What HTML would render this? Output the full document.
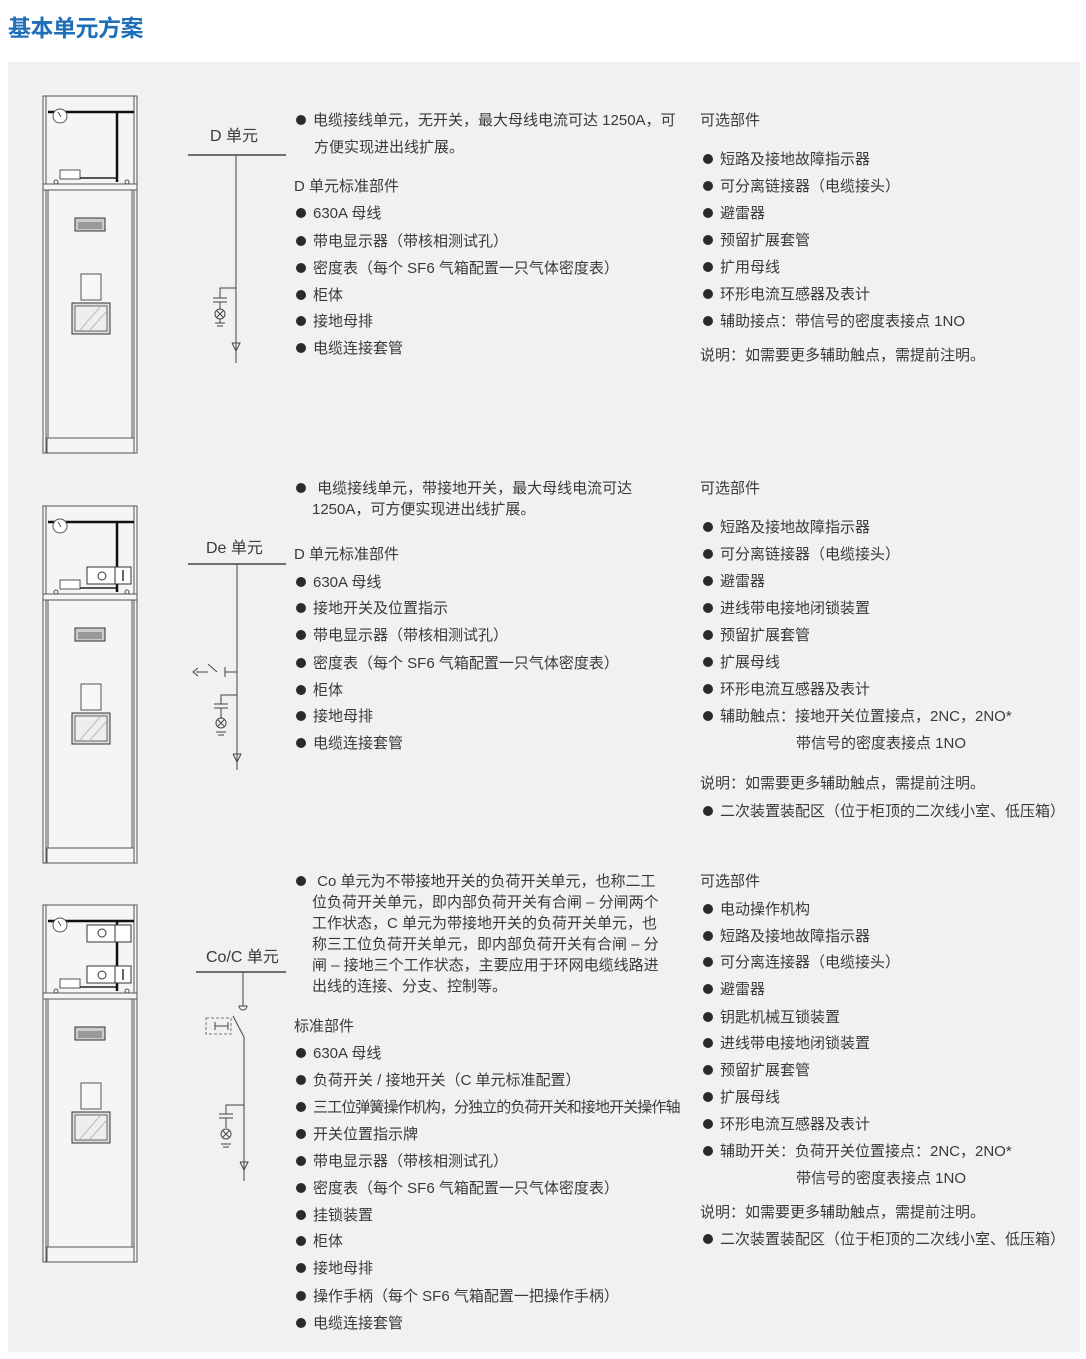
<!DOCTYPE html>
<html><head><meta charset="utf-8">
<style>
body{margin:0;width:1086px;height:1359px;background:#fff;position:relative;overflow:hidden;font-family:"Liberation Sans","Noto Sans CJK SC",sans-serif;color:#3a3a3a}
.panel{position:absolute;left:8px;top:62px;width:1072px;height:1290px;background:#eff1f3}
.t{position:absolute;font-size:15px;line-height:18px;white-space:nowrap}
.t i{display:inline-block;width:10px;height:10px;border-radius:50%;background:#2a2a2a;margin:0 7px 0 1px;vertical-align:0px}
h1{position:absolute;left:8px;top:13px;margin:0;font-size:23px;font-weight:bold;color:#1f6fb8;line-height:30px;letter-spacing:-0.5px}
svg{position:absolute;left:0;top:0}
</style></head><body>
<h1>基本单元方案</h1>
<div class="panel"></div>
<svg width="1086" height="1359" viewBox="0 0 1086 1359">
<defs>
<g id="cab" fill="none" stroke="#555" stroke-width="1">
<rect x="43" y="96" width="94" height="357" fill="#f4f5f7"/>
<line x1="46" y1="96" x2="46" y2="453"/><line x1="134" y1="96" x2="134" y2="453"/>
<rect x="43" y="184" width="94" height="6" fill="#f4f5f7"/>
<line x1="48" y1="190" x2="48" y2="438"/><line x1="132" y1="190" x2="132" y2="438"/>
<rect x="47" y="438" width="87" height="15" fill="#f4f5f7"/>
<line x1="48" y1="112" x2="134" y2="112" stroke="#111" stroke-width="2.5"/>
<circle cx="60" cy="116" r="7" fill="#fff"/><line x1="58" y1="112" x2="61" y2="117"/>
<rect x="75" y="218" width="30" height="13" fill="#ccc" stroke="#333"/>
<rect x="78" y="222" width="24" height="7" fill="#999" stroke="none"/>
<rect x="81" y="274" width="20" height="26" fill="#f7f7f7"/>
<rect x="72" y="303" width="38" height="31" fill="#ddd" stroke="#333"/>
<rect x="75" y="306" width="32" height="25" fill="#eee" stroke="#666"/>
<line x1="80" y1="330" x2="100" y2="307" stroke="#bbb"/><line x1="90" y1="330" x2="106" y2="312" stroke="#bbb"/>
<rect x="60" y="170" width="20" height="9" fill="#fff"/>
<line x1="80" y1="178" x2="117" y2="178" stroke="#222" stroke-width="1.5"/>
<circle cx="56" cy="182" r="2"/><circle cx="127" cy="182" r="2"/>
<line x1="117" y1="112" x2="117" y2="182" stroke="#111" stroke-width="2.5"/>
</g>
</defs>
<use href="#cab"/>
<use href="#cab" y="410"/>
<use href="#cab" y="809"/>
<g fill="#fff" stroke="#333">
<rect x="87" y="567" width="44" height="17"/><rect x="115" y="567" width="16" height="17"/>
<circle cx="102" cy="576" r="4" fill="none"/>
<rect x="87" y="966" width="44" height="17"/><rect x="115" y="966" width="16" height="17"/>
<circle cx="102" cy="975" r="4" fill="none"/>
<rect x="87" y="925" width="44" height="17"/><rect x="115" y="925" width="16" height="17"/>
<circle cx="102" cy="933" r="4" fill="none"/>
</g>
<g stroke="#333" stroke-width="1.5"><line x1="123" y1="570" x2="123" y2="581"/><line x1="123" y1="969" x2="123" y2="980"/></g>
<g stroke="#444" stroke-width="1" fill="none">
<line x1="188" y1="155" x2="286" y2="155" stroke-width="1.5"/>
<line x1="236" y1="155" x2="236" y2="363"/>
<polyline points="236,288 220,288 220,298"/><line x1="213" y1="298" x2="227" y2="298"/><line x1="213" y1="302" x2="227" y2="302"/>
<line x1="220" y1="302" x2="220" y2="309"/><circle cx="220" cy="314" r="5"/><line x1="217" y1="311" x2="223" y2="317"/><line x1="223" y1="311" x2="217" y2="317"/>
<line x1="220" y1="319" x2="220" y2="323"/><line x1="215" y1="323" x2="225" y2="323"/><line x1="217" y1="326" x2="223" y2="326"/>
<polyline points="232,343 236,351 240,343 232,343"/>

<line x1="188" y1="564" x2="286" y2="564" stroke-width="1.5"/>
<line x1="237" y1="564" x2="237" y2="770"/>
<line x1="225" y1="672" x2="237" y2="672"/><line x1="225" y1="667" x2="225" y2="677"/>
<line x1="217" y1="672" x2="208" y2="664"/><line x1="208" y1="672" x2="196" y2="672"/><polyline points="198,668 193,672 198,676"/>
<polyline points="237,695 221,695 221,704"/><line x1="214" y1="704" x2="228" y2="704"/><line x1="214" y1="708" x2="228" y2="708"/>
<line x1="221" y1="708" x2="221" y2="718"/><circle cx="221" cy="723" r="5"/><line x1="218" y1="720" x2="224" y2="726"/><line x1="224" y1="720" x2="218" y2="726"/>
<line x1="216" y1="732" x2="226" y2="732"/><line x1="218" y1="735" x2="224" y2="735"/>
<polyline points="233,754 237,762 241,754 233,754"/>

<line x1="196" y1="972" x2="286" y2="972" stroke-width="1.5"/>
<line x1="243" y1="972" x2="243" y2="1006"/><path d="M239 1006 h8 a4 4 0 0 1 -8 0z"/>
<line x1="233" y1="1016" x2="244" y2="1037"/><line x1="244" y1="1037" x2="244" y2="1181"/>
<rect x="206" y="1018" width="25" height="16" stroke-dasharray="3,2" stroke="#777"/>
<line x1="215" y1="1022" x2="215" y2="1030"/><line x1="215" y1="1026" x2="228" y2="1026"/><line x1="228" y1="1022" x2="228" y2="1030"/>
<polyline points="244,1105 226,1105 226,1114"/><line x1="219" y1="1114" x2="233" y2="1114"/><line x1="219" y1="1118" x2="233" y2="1118"/>
<line x1="226" y1="1118" x2="226" y2="1128"/><circle cx="226" cy="1134" r="5"/><line x1="223" y1="1131" x2="229" y2="1137"/><line x1="229" y1="1131" x2="223" y2="1137"/>
<line x1="221" y1="1144" x2="231" y2="1144"/><line x1="223" y1="1147" x2="229" y2="1147"/>
<polyline points="240,1162 244,1170 248,1162 240,1162"/>
</g>
</svg>

<div class="t" style="left:210px;top:128px;font-size:16px">D 单元</div>
<div class="t" style="left:206px;top:540px;font-size:16px">De 单元</div>
<div class="t" style="left:206px;top:949px;font-size:16px">Co/C 单元</div>

<div class="t" style="left:295px;top:112px"><i></i>电缆接线单元，无开关，最大母线电流可达 1250A，可</div>
<div class="t" style="left:314px;top:139px">方便实现进出线扩展。</div>
<div class="t" style="left:294px;top:178px">D 单元标准部件</div>
<div class="t" style="left:295px;top:205px"><i></i>630A 母线</div>
<div class="t" style="left:295px;top:233px"><i></i>带电显示器（带核相测试孔）</div>
<div class="t" style="left:295px;top:260px"><i></i>密度表（每个 SF6 气箱配置一只气体密度表）</div>
<div class="t" style="left:295px;top:287px"><i></i>柜体</div>
<div class="t" style="left:295px;top:313px"><i></i>接地母排</div>
<div class="t" style="left:295px;top:340px"><i></i>电缆连接套管</div>

<div class="t" style="left:700px;top:112px">可选部件</div>
<div class="t" style="left:702px;top:151px"><i></i>短路及接地故障指示器</div>
<div class="t" style="left:702px;top:178px"><i></i>可分离链接器（电缆接头）</div>
<div class="t" style="left:702px;top:205px"><i></i>避雷器</div>
<div class="t" style="left:702px;top:232px"><i></i>预留扩展套管</div>
<div class="t" style="left:702px;top:259px"><i></i>扩用母线</div>
<div class="t" style="left:702px;top:286px"><i></i>环形电流互感器及表计</div>
<div class="t" style="left:702px;top:313px"><i></i>辅助接点：带信号的密度表接点 1NO</div>
<div class="t" style="left:700px;top:347px">说明：如需要更多辅助触点，需提前注明。</div>

<div class="t" style="left:295px;top:480px"><i></i> 电缆接线单元，带接地开关，最大母线电流可达</div>
<div class="t" style="left:312px;top:501px">1250A，可方便实现进出线扩展。</div>
<div class="t" style="left:294px;top:546px">D 单元标准部件</div>
<div class="t" style="left:295px;top:574px"><i></i>630A 母线</div>
<div class="t" style="left:295px;top:600px"><i></i>接地开关及位置指示</div>
<div class="t" style="left:295px;top:627px"><i></i>带电显示器（带核相测试孔）</div>
<div class="t" style="left:295px;top:655px"><i></i>密度表（每个 SF6 气箱配置一只气体密度表）</div>
<div class="t" style="left:295px;top:682px"><i></i>柜体</div>
<div class="t" style="left:295px;top:708px"><i></i>接地母排</div>
<div class="t" style="left:295px;top:735px"><i></i>电缆连接套管</div>

<div class="t" style="left:700px;top:480px">可选部件</div>
<div class="t" style="left:702px;top:519px"><i></i>短路及接地故障指示器</div>
<div class="t" style="left:702px;top:546px"><i></i>可分离链接器（电缆接头）</div>
<div class="t" style="left:702px;top:573px"><i></i>避雷器</div>
<div class="t" style="left:702px;top:600px"><i></i>进线带电接地闭锁装置</div>
<div class="t" style="left:702px;top:627px"><i></i>预留扩展套管</div>
<div class="t" style="left:702px;top:654px"><i></i>扩展母线</div>
<div class="t" style="left:702px;top:681px"><i></i>环形电流互感器及表计</div>
<div class="t" style="left:702px;top:708px"><i></i>辅助触点：接地开关位置接点，2NC，2NO*</div>
<div class="t" style="left:796px;top:735px">带信号的密度表接点 1NO</div>
<div class="t" style="left:700px;top:775px">说明：如需要更多辅助触点，需提前注明。</div>
<div class="t" style="left:702px;top:803px"><i></i>二次装置装配区（位于柜顶的二次线小室、低压箱）</div>

<div class="t" style="left:295px;top:873px"><i></i> Co 单元为不带接地开关的负荷开关单元，也称二工</div>
<div class="t" style="left:312px;top:894px">位负荷开关单元，即内部负荷开关有合闸 – 分闸两个</div>
<div class="t" style="left:312px;top:915px">工作状态，C 单元为带接地开关的负荷开关单元，也</div>
<div class="t" style="left:312px;top:936px">称三工位负荷开关单元，即内部负荷开关有合闸 – 分</div>
<div class="t" style="left:312px;top:957px">闸 – 接地三个工作状态，主要应用于环网电缆线路进</div>
<div class="t" style="left:312px;top:978px">出线的连接、分支、控制等。</div>
<div class="t" style="left:294px;top:1018px">标准部件</div>
<div class="t" style="left:295px;top:1045px"><i></i>630A 母线</div>
<div class="t" style="left:295px;top:1072px"><i></i>负荷开关 / 接地开关（C 单元标准配置）</div>
<div class="t" style="left:295px;top:1099px;letter-spacing:-0.9px"><i></i>三工位弹簧操作机构，分独立的负荷开关和接地开关操作轴</div>
<div class="t" style="left:295px;top:1126px"><i></i>开关位置指示牌</div>
<div class="t" style="left:295px;top:1153px"><i></i>带电显示器（带核相测试孔）</div>
<div class="t" style="left:295px;top:1180px"><i></i>密度表（每个 SF6 气箱配置一只气体密度表）</div>
<div class="t" style="left:295px;top:1207px"><i></i>挂锁装置</div>
<div class="t" style="left:295px;top:1233px"><i></i>柜体</div>
<div class="t" style="left:295px;top:1260px"><i></i>接地母排</div>
<div class="t" style="left:295px;top:1288px"><i></i>操作手柄（每个 SF6 气箱配置一把操作手柄）</div>
<div class="t" style="left:295px;top:1315px"><i></i>电缆连接套管</div>

<div class="t" style="left:700px;top:873px">可选部件</div>
<div class="t" style="left:702px;top:901px"><i></i>电动操作机构</div>
<div class="t" style="left:702px;top:928px"><i></i>短路及接地故障指示器</div>
<div class="t" style="left:702px;top:954px"><i></i>可分离连接器（电缆接头）</div>
<div class="t" style="left:702px;top:981px"><i></i>避雷器</div>
<div class="t" style="left:702px;top:1009px"><i></i>钥匙机械互锁装置</div>
<div class="t" style="left:702px;top:1035px"><i></i>进线带电接地闭锁装置</div>
<div class="t" style="left:702px;top:1062px"><i></i>预留扩展套管</div>
<div class="t" style="left:702px;top:1089px"><i></i>扩展母线</div>
<div class="t" style="left:702px;top:1116px"><i></i>环形电流互感器及表计</div>
<div class="t" style="left:702px;top:1143px"><i></i>辅助开关：负荷开关位置接点：2NC，2NO*</div>
<div class="t" style="left:796px;top:1170px">带信号的密度表接点 1NO</div>
<div class="t" style="left:700px;top:1204px">说明：如需要更多辅助触点，需提前注明。</div>
<div class="t" style="left:702px;top:1231px"><i></i>二次装置装配区（位于柜顶的二次线小室、低压箱）</div>
</body></html>
